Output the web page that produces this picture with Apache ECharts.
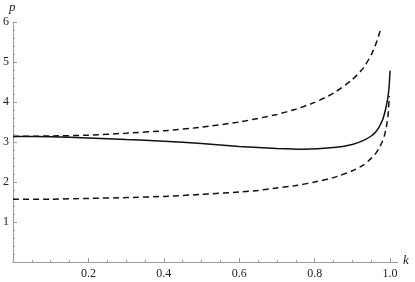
<!DOCTYPE html>
<html><head><meta charset="utf-8">
<script src="https://cdn.jsdelivr.net/npm/echarts@6/dist/echarts.min.js"></script>
<style>html,body{margin:0;padding:0;background:#fff}#c{width:415px;height:282px}</style>
</head><body><div id="c"></div>
<script>
// Readings from the picture
const kUpper = [0, 0.1, 0.2, 0.3, 0.4, 0.5, 0.6, 0.65, 0.7, 0.75, 0.8, 0.85, 0.9, 0.93, 0.95, 0.96, 0.97, 0.976];
const pUpper = [3.14, 3.15, 3.17, 3.22, 3.28, 3.37, 3.50, 3.59, 3.69, 3.82, 3.99, 4.22, 4.56, 4.86, 5.18, 5.39, 5.66, 5.86];

const kLower = [0, 0.1, 0.2, 0.3, 0.4, 0.5, 0.6, 0.65, 0.7, 0.75, 0.8, 0.85, 0.9, 0.93, 0.95, 0.96, 0.97, 0.98, 0.985, 0.99, 0.995, 0.998];
const pLower = [1.57, 1.57, 1.59, 1.61, 1.64, 1.69, 1.75, 1.79, 1.85, 1.91, 2.00, 2.11, 2.28, 2.43, 2.59, 2.69, 2.83, 3.02, 3.16, 3.36, 3.70, 4.15];

const kSolid = [0, 0.1, 0.2, 0.3, 0.4, 0.5, 0.6, 0.7, 0.77, 0.85, 0.9, 0.93, 0.95, 0.96, 0.97, 0.98, 0.985, 0.99, 0.995, 0.998, 1.0];
const pSolid = [3.14, 3.13, 3.10, 3.06, 3.02, 2.96, 2.89, 2.84, 2.82, 2.86, 2.94, 3.04, 3.15, 3.23, 3.36, 3.55, 3.70, 3.90, 4.16, 4.45, 4.78];

const xMajorTicks = [0.2, 0.4, 0.6, 0.8, 1.0];
const xMinorTicks = [0.05, 0.1, 0.15, 0.25, 0.3, 0.35, 0.45, 0.5, 0.55, 0.65, 0.7, 0.75, 0.85, 0.9, 0.95];
const yTickLabels = ['1', '2', '3', '4', '5', '6'];

const pairs = (xs, ys) => xs.map((x, i) => [x, ys[i]]);
const font = 'Liberation Serif';
const axisGray = '#9a9a9a';

const chart = echarts.init(document.getElementById('c'), null, {renderer: 'canvas'});
chart.setOption({
  animation: false,
  grid: {left: 11, right: 17.4, top: 22, bottom: 20, containLabel: false},
  xAxis: [
    {
      type: 'value', min: 0, max: 1.02, position: 'bottom',
      axisLine: {show: true, onZero: false, lineStyle: {color: axisGray, width: 1}},
      axisTick: {show: true, inside: true, length: 4, customValues: xMajorTicks, lineStyle: {color: axisGray}},
      axisLabel: {show: true, customValues: xMajorTicks, formatter: v => v.toFixed(1),
        fontFamily: font, fontSize: 12, color: '#222', margin: 6},
      splitLine: {show: false}
    },
    {
      type: 'value', min: 0, max: 1.02, position: 'bottom', gridIndex: 0,
      axisLine: {show: false},
      axisTick: {show: true, inside: true, length: 2, customValues: xMinorTicks, lineStyle: {color: axisGray}},
      axisLabel: {show: false},
      splitLine: {show: false}
    }
  ],
  yAxis: {
    type: 'value', min: 0, max: 6, interval: 1,
    axisLine: {show: true, onZero: false, lineStyle: {color: axisGray, width: 1}},
    axisTick: {show: true, inside: true, length: 4, lineStyle: {color: axisGray}},
    minorTick: {show: true, splitNumber: 5, length: 2, lineStyle: {color: axisGray}},
    axisLabel: {show: true, showMinLabel: false, fontFamily: font, fontSize: 12, color: '#222', margin: 4,
      formatter: v => yTickLabels[Math.round(v) - 1] || ''},
    splitLine: {show: false}, minorSplitLine: {show: false}
  },
  series: [
    {type: 'line', data: pairs(kUpper, pUpper), showSymbol: false, smooth: 0.2, clip: true,
      lineStyle: {color: '#111', width: 1.5, type: [6, 4]}},
    {type: 'line', data: pairs(kLower, pLower), showSymbol: false, smooth: 0.2, clip: true,
      lineStyle: {color: '#111', width: 1.5, type: [6, 4]}},
    {type: 'line', data: pairs(kSolid, pSolid), showSymbol: false, smooth: 0.2, clip: true,
      lineStyle: {color: '#111', width: 1.5, type: 'solid'}}
  ],
  graphic: [
    {type: 'text', left: 9, top: 1, style: {text: 'p', font: 'italic 13px "Liberation Serif"', fill: '#222'}},
    {type: 'text', left: 403, top: 254, style: {text: 'k', font: 'italic 13px "Liberation Serif"', fill: '#222'}}
  ]
});
</script>
</body></html>
